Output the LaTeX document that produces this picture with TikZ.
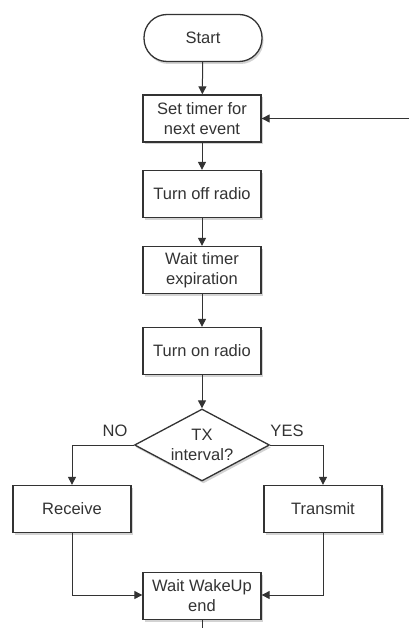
\documentclass[tikz,border=0pt]{standalone}
\usepackage{fontspec}
\setmainfont{Liberation Sans}
\usetikzlibrary{arrows.meta,shapes.geometric,shadows}
\definecolor{ink}{HTML}{333333}
\tikzset{
  box/.style={draw=ink, line width=1.3pt, fill=white, rectangle, minimum width=118pt, minimum height=47pt,
    inner sep=0pt, align=center, text=ink, font=\fontsize{16.5}{20}\selectfont,
    drop shadow={opacity=0.35, shadow xshift=1.5pt, shadow yshift=-2.5pt}},
  term/.style={box, rounded corners=23pt},
  decision/.style={box, diamond, aspect=1.875, minimum width=135pt, minimum height=72pt},
  lbl/.style={text=ink, font=\fontsize{16.5}{20}\selectfont, inner sep=0pt},
  flow/.style={draw=ink, line width=1pt, -{Triangle[length=8pt,width=8pt]}},
  plain/.style={draw=ink, line width=1pt}
}
\begin{document}
\begin{tikzpicture}[x=1pt,y=-1pt]
\useasboundingbox (0,0) rectangle (409,628);
\node[term] (start) at (203,38) {Start};
\node[box] (set) at (202,118.5) {Set timer for\\next event};
\node[box] (off) at (202,194) {Turn off radio};
\node[box] (wait) at (202,270) {Wait timer\\expiration};
\node[box] (on) at (202,351) {Turn on radio};
\node[decision] (tx) at (202,445) {TX\\interval?};
\node[box] (rx) at (72,509) {Receive};
\node[box] (tr) at (323,509) {Transmit};
\node[box] (wk) at (202,596) {Wait WakeUp\\end};
\node[lbl] (no) at (115,431) {NO};
\node[lbl] (yes) at (287,431) {YES};
\coordinate (back) at (409,118.5);
\coordinate (down) at (202,628);
\draw[flow] (start) -- (set);
\draw[flow] (set) -- (off);
\draw[flow] (off) -- (wait);
\draw[flow] (wait) -- (on);
\draw[flow] (on) -- (tx);
\draw[flow] (back) -- (set);
\draw[flow] (tx.west) -| (rx.north);
\draw[flow] (tx.east) -| (tr.north);
\draw[flow] (rx.south) |- ([yshift=1pt]wk.west);
\draw[flow] (tr.south) |- ([yshift=1pt]wk.east);
\draw[plain] (wk) -- (down);
\end{tikzpicture}
\end{document}
